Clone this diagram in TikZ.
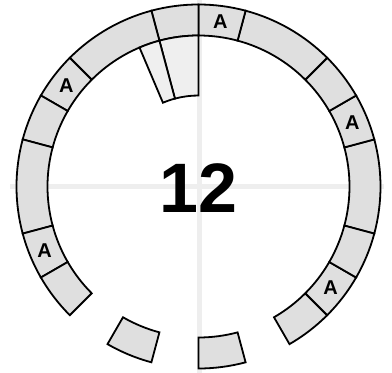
\documentclass[tikz,border=0pt]{standalone}
\usepackage{fontspec}
\setmainfont{Liberation Sans}
\begin{document}
\begin{tikzpicture}[x=1pt,y=1pt,
  seg/.style={draw=black,line width=1.8pt,fill=ringgrey,line join=miter},
  liftseg/.style={draw=black,line width=1.8pt,fill=liftgrey},
  lbl/.style={font=\fontsize{20}{22}\selectfont\bfseries,inner sep=0pt},
  axis/.style={draw=axisgrey,line width=4.5pt}]
\definecolor{ringgrey}{HTML}{DFDFDF}
\definecolor{liftgrey}{HTML}{EFEFEF}
\definecolor{axisgrey}{HTML}{EEEEEE}
\useasboundingbox (-198.5,-186.5) rectangle (193.5,186.5);
% axes
\coordinate (hl) at (-188.5,0);
\coordinate (hr) at (186,0);
\coordinate (vt) at (1,186.5);
\coordinate (vb) at (1,-186.5);
\draw[axis] (hl) -- (hr);
\draw[axis] (vt) -- (vb);
\def\Ri{151}
\def\Ro{182}
% ring segments
\foreach \a/\b in {-15/15,15/30,30/45,45/75,75/90,90/105,105/135,135/150,150/165,165/195,195/210,210/225,240/255,270/285,300/315,315/330,330/345}{
  \draw[seg] (\a:\Ri) arc[start angle=\a,end angle=\b,radius=\Ri] -- (\b:\Ro) arc[start angle=\b,end angle=\a,radius=\Ro] -- cycle;
}
% lifted inner pieces
\foreach \a/\b in {90/105,105/113}{
  \draw[liftseg] (\a:91) arc[start angle=\a,end angle=\b,radius=91] -- (\b:\Ri) arc[start angle=\b,end angle=\a,radius=\Ri] -- cycle;
}
% labels
\foreach \n/\ang in {a1/22.5,a2/82.5,a3/142.5,a4/202.5,a5/322.5}{
  \node[lbl] (\n) at (\ang:166.5) {A};
}
\node[font=\fontsize{70}{80}\selectfont\bfseries,inner sep=0pt] (num) at (0,-1.5) {12};
\end{tikzpicture}
\end{document}
